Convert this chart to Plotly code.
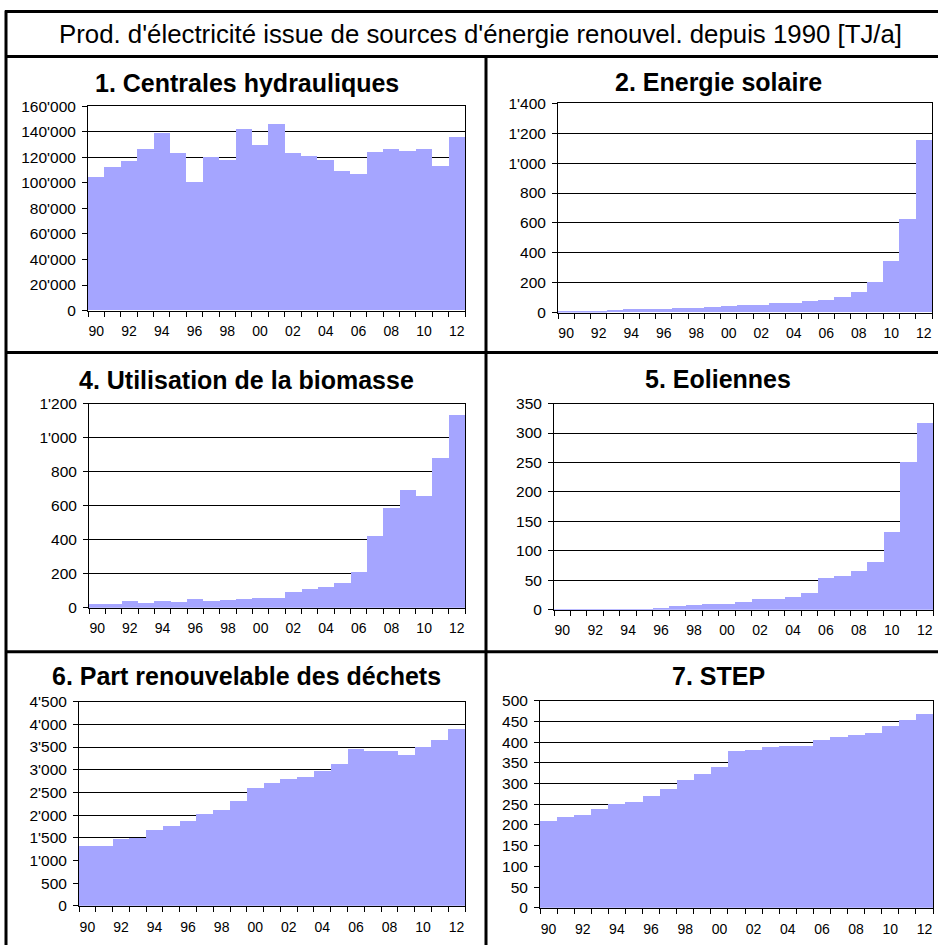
import plotly.graph_objects as go

# ---- data (TJ/a) ----
years = list(range(1990, 2013))
label_years = years[::2]
year_labels = ["90", "92", "94", "96", "98", "00", "02", "04", "06", "08", "10", "12"]

hydro = [104000, 112000, 116700, 126000, 138600, 123000, 100200, 119800, 117500, 141800,
         129200, 145700, 123000, 121100, 117500, 108900, 107000, 123800, 126100, 124500,
         126100, 112800, 135500]
solar = [8, 8, 9, 16, 18, 24, 24, 29, 29, 36, 42, 49, 49, 62, 62, 76, 83, 103, 132, 199,
         339, 625, 1154]
biomass = [25, 25, 43, 31, 43, 37, 55, 43, 49, 55, 61, 61, 96, 113, 125, 149, 213, 424, 588,
           694, 659, 881, 1133]
wind = [0.3, 0.3, 0.4, 0.4, 0.5, 0.6, 3, 7, 8.5, 10, 10, 13.5, 18.6, 18.6, 22, 29, 54, 57.6,
        66, 82, 132, 252, 317]
waste = [1327, 1327, 1488, 1495, 1678, 1766, 1876, 2030, 2118, 2316, 2602, 2712, 2800, 2844,
         2983, 3130, 3459, 3415, 3415, 3327, 3503, 3657, 3899]
step = [210, 220, 225, 240, 252, 257, 271, 288, 310, 324, 341, 380, 382, 390, 392, 392, 406,
        414, 419, 422, 439, 455, 468]

main_title = "Prod. d'électricité issue de sources d'énergie renouvel. depuis 1990 [TJ/a]"
titles = ["1. Centrales hydrauliques", "2. Energie solaire", "4. Utilisation de la biomasse",
          "5. Eoliennes", "6. Part renouvelable des déchets", "7. STEP"]
series = [hydro, solar, biomass, wind, waste, step]
y_max = [160000, 1400, 1200, 350, 4500, 500]
y_step = [20000, 200, 200, 50, 500, 50]

# ---- layout (pixels) ----
W, H = 938, 945
plot_boxes = [(88, 465, 106, 310), (558, 932, 103, 312),
              (89, 465, 403, 607), (554, 933, 403, 609),
              (79, 465, 701, 905), (540, 933, 700, 907)]
title_pos = [(247, 83), (718, 82), (247, 379), (718, 378), (247, 675), (718, 675)]

# vertical calibration of the rendered page
Y_OFF, Y_SCALE = 8.6, 0.9816

def fx(p):
    return p / W

def fy(p):
    return 1 - ((p - Y_OFF) / Y_SCALE) / H

BAR = "#A5A5FF"
FONT = "Liberation Sans, Arial, sans-serif"

fig = go.Figure()
layout = dict(
    width=W, height=H, autosize=False,
    margin=dict(l=0, r=0, t=0, b=0),
    paper_bgcolor="white", plot_bgcolor="white",
    showlegend=False, bargap=0,
    separators=".'",
    font=dict(family=FONT, size=14, color="black"),
)

annotations = [dict(text=main_title, x=fx(480), y=fy(34), xref="paper", yref="paper",
                    showarrow=False, xanchor="center", yanchor="middle",
                    font=dict(size=25.8, family=FONT, color="black"))]

for i, (t, vals) in enumerate(zip(titles, series)):
    n = i + 1
    xa = "x" if n == 1 else f"x{n}"
    ya = "y" if n == 1 else f"y{n}"
    fig.add_trace(go.Bar(x=years, y=vals, xaxis=xa, yaxis=ya, width=1.0,
                         marker=dict(color=BAR, line=dict(width=0)),
                         hoverinfo="x+y"))
    x0, x1, y0, y1 = plot_boxes[i]
    xkey = "xaxis" if n == 1 else f"xaxis{n}"
    ykey = "yaxis" if n == 1 else f"yaxis{n}"
    layout[xkey] = dict(
        domain=[fx(x0), fx(x1)], anchor=ya,
        range=[1989.5, 2012.5], showgrid=False, zeroline=False,
        showline=True, linecolor="black", linewidth=1, mirror=True,
        tickmode="array", tickvals=label_years, ticktext=year_labels,
        ticks="", ticklabelstandoff=8,
        tickfont=dict(size=14, family=FONT, color="black"),
        minor=dict(tickmode="array", tickvals=[1989.5 + k for k in range(24)],
                   ticks="outside", ticklen=5, tickcolor="black", tickwidth=1,
                   showgrid=False),
        fixedrange=True,
    )
    layout[ykey] = dict(
        domain=[fy(y1), fy(y0)], anchor=xa,
        range=[0, y_max[i]], tickmode="linear", tick0=0, dtick=y_step[i],
        tickformat=",d",
        showgrid=True, gridcolor="black", gridwidth=1, zeroline=False,
        showline=True, linecolor="black", linewidth=1, mirror=True,
        ticks="outside", ticklen=5, tickcolor="black", tickwidth=1,
        ticklabelstandoff=3,
        tickfont=dict(size=15.5, family=FONT, color="black"),
        fixedrange=True,
    )
    tx, ty = title_pos[i]
    annotations.append(dict(text=f"<b>{t}</b>", x=fx(tx), y=fy(ty), xref="paper",
                            yref="paper", showarrow=False, xanchor="center",
                            yanchor="middle",
                            font=dict(size=25, family=FONT, color="black")))

lw = 3
shapes = [
    dict(type="line", xref="paper", yref="paper", x0=fx(5), x1=fx(W + 5), y0=fy(11), y1=fy(11),
         line=dict(color="black", width=lw)),
    dict(type="line", xref="paper", yref="paper", x0=fx(6), x1=fx(6), y0=fy(10), y1=fy(H + 20),
         line=dict(color="black", width=lw)),
    dict(type="line", xref="paper", yref="paper", x0=fx(5), x1=fx(W + 5), y0=fy(56), y1=fy(56),
         line=dict(color="black", width=lw)),
    dict(type="line", xref="paper", yref="paper", x0=fx(5), x1=fx(W + 5), y0=fy(352), y1=fy(352),
         line=dict(color="black", width=lw)),
    dict(type="line", xref="paper", yref="paper", x0=fx(5), x1=fx(W + 5), y0=fy(651), y1=fy(651),
         line=dict(color="black", width=lw)),
    dict(type="line", xref="paper", yref="paper", x0=fx(486), x1=fx(486), y0=fy(56), y1=fy(H + 20),
         line=dict(color="black", width=lw)),
]

layout["annotations"] = annotations
layout["shapes"] = shapes
fig.update_layout(**layout)

fig.write_html("out.html", config={"displayModeBar": False},
               post_script="document.body.style.margin='0';")
